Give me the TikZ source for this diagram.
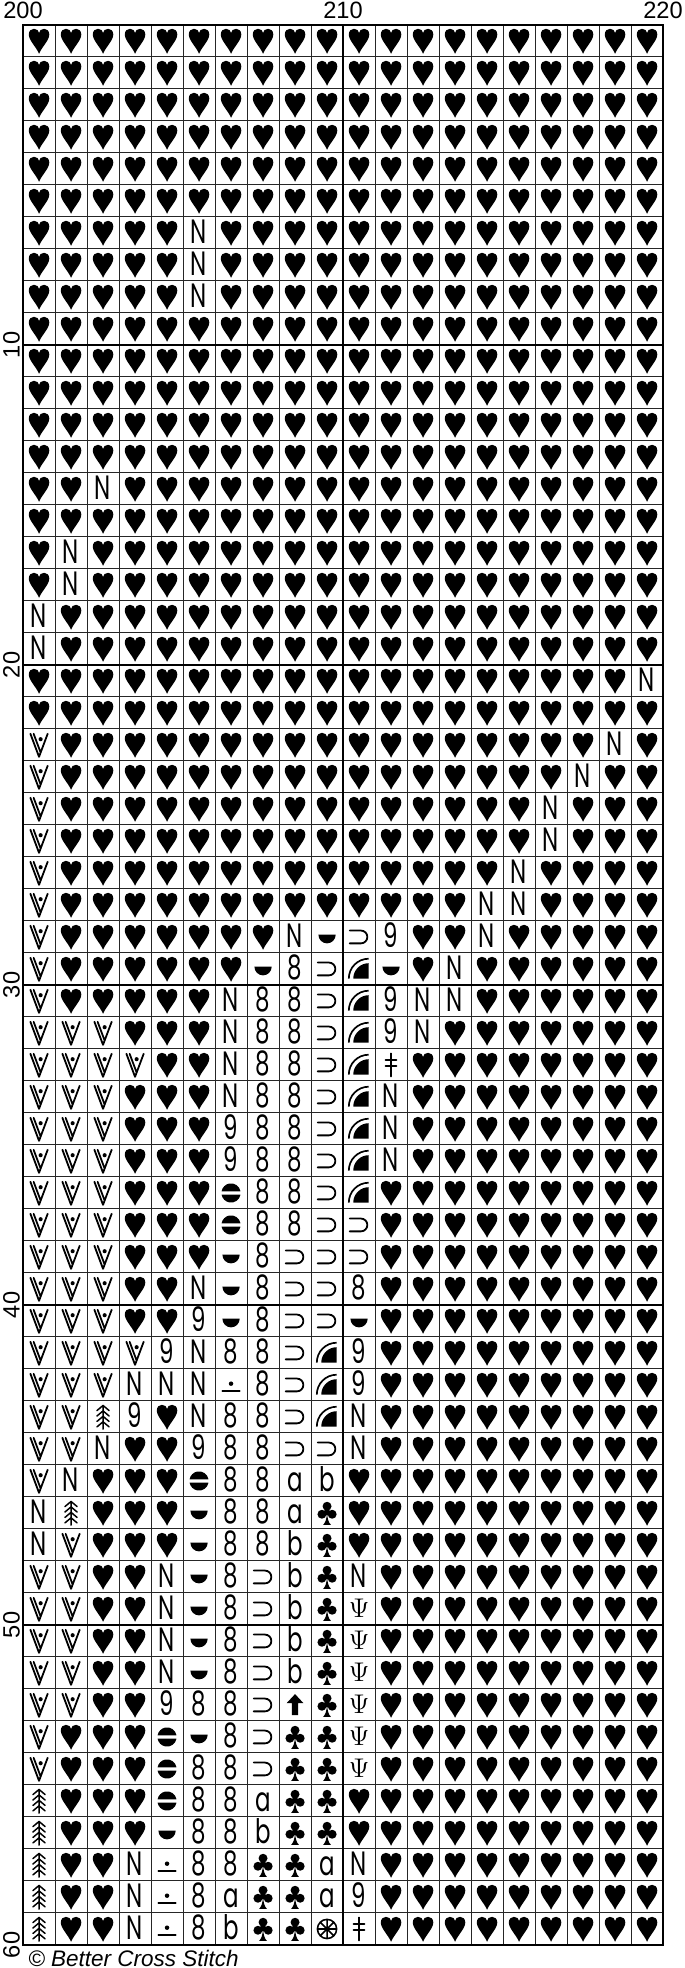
\documentclass[tikz,border=0pt]{standalone}
\usepackage{fontspec}
\setmainfont{Liberation Sans}
\newfontfamily\glyphfont{Poppins}
\usetikzlibrary{calc}

% squeeze a chart glyph sideways
\newcommand\slimglyph[1]{\scalebox{0.68}[1]{#1}}

% one chart row: \chartrow{row}{symbols}
\newcommand\chartrow[2]{\def\rowno{#1}\def\colno{0}\expandafter\chartnext#2\relax}
\def\chartnext#1{%
  \ifx\relax#1\else
    \pgfmathtruncatemacro\colno{\colno+1}%
    \pic (s\rowno-\colno) at (\colno-0.5,0.5-\rowno) {sym#1};%
    \expandafter\chartnext
  \fi}

\tikzset{
  glyph/.style={inner sep=0pt, anchor=base, font=\glyphfont\fontsize{15}{15}\selectfont},
  stroke/.style={line width=0.8pt, line cap=round, line join=round},
  % heart
  pics/symH/.style={code={
    \fill (0,-0.4) .. controls (-0.08,-0.2) and (-0.32,0.02) .. (-0.32,0.2)
      .. controls (-0.32,0.32) and (-0.24,0.38) .. (-0.16,0.38)
      .. controls (-0.07,0.38) and (0,0.32) .. (0,0.25)
      .. controls (0,0.32) and (0.07,0.38) .. (0.16,0.38)
      .. controls (0.24,0.38) and (0.32,0.32) .. (0.32,0.2)
      .. controls (0.32,0.02) and (0.08,-0.2) .. (0,-0.4) -- cycle;}},
  % club
  pics/symC/.style={code={
    \fill (0,0.21) circle (0.14) (-0.16,-0.04) circle (0.14) (0.16,-0.04) circle (0.14) (0,0.02) circle (0.1);
    \fill (0,-0.02) .. controls (0.02,-0.2) and (0.05,-0.3) .. (0.12,-0.37) -- (-0.12,-0.37)
      .. controls (-0.05,-0.3) and (-0.02,-0.2) .. (0,-0.02);}},
  % letters and figures
  pics/symN/.style={code={\node[glyph] (g) at (0,-0.33) {\slimglyph{N}};}},
  pics/sym8/.style={code={\node[glyph] (g) at (0,-0.33) {\slimglyph{8}};}},
  pics/sym9/.style={code={\node[glyph] (g) at (0,-0.33) {\slimglyph{9}};}},
  pics/syma/.style={code={\node[glyph] (g) at (0,-0.33) {\slimglyph{a}};}},
  pics/symb/.style={code={\node[glyph] (g) at (0,-0.33) {\slimglyph{b}};}},
  pics/symY/.style={code={\node[inner sep=0pt, font=\fontsize{13}{13}\selectfont] (g) at (0,0.03) {$\Psi$};}},
  % drawn marks
  pics/symS/.style={code={\draw[stroke] (-0.29,0.2) -- (0.06,0.2) arc (90:-90:0.2) -- (-0.29,-0.2);}},
  pics/symD/.style={code={\fill (-0.27,0.07) -- (0.27,0.07) arc (0:-180:0.27) -- cycle;}},
  pics/symE/.style={code={
    \fill (10:0.3) arc (10:170:0.3) -- cycle;
    \fill (-10:0.3) arc (-10:-170:0.3) -- cycle;}},
  pics/symQ/.style={code={
    \draw[line width=0.75pt] (-0.32,-0.3) arc (180:90:0.62);
    \fill (0.3,-0.3) -- (-0.18,-0.3) arc (180:90:0.48) -- cycle;}},
  pics/symT/.style={code={\draw[stroke] (0,-0.36) -- (0,0.36) (-0.17,0.15) -- (0.17,0.15) (-0.17,-0.02) -- (0.17,-0.02);}},
  pics/symP/.style={code={\fill (0,0.04) circle (0.07); \draw[stroke] (-0.27,-0.19) -- (0.27,-0.19);}},
  pics/symU/.style={code={\fill (0,0.34) -- (0.26,0.06) -- (0.1,0.06) -- (0.1,-0.32) -- (-0.1,-0.32) -- (-0.1,0.06) -- (-0.26,0.06) -- cycle;}},
  pics/symF/.style={code={\draw[stroke, line width=0.65pt] (0,-0.38) -- (0,0.36)
    (-0.19,0.2) -- (0,0.36) -- (0.19,0.2) (-0.19,0.03) -- (0,0.19) -- (0.19,0.03)
    (-0.19,-0.14) -- (0,0.02) -- (0.19,-0.14) (-0.19,-0.31) -- (0,-0.15) -- (0.19,-0.31);}},
  pics/symW/.style={code={\draw[stroke, line width=0.7pt] (0,0) circle (0.3)
    (0:0.3) -- (180:0.3) (45:0.3) -- (225:0.3) (90:0.3) -- (270:0.3) (135:0.3) -- (315:0.3);}},
  pics/symV/.style={code={\draw[stroke] (-0.27,0.35) -- (0,-0.37) -- (0.27,0.35)
    (-0.17,0.35) -- (0.05,-0.237); \fill (0.05,0.18) circle (0.065);}}
}

\begin{document}
\begin{tikzpicture}[x=0.5cm, y=0.5cm,
    cellrule/.style={line width=0.45pt, black!85},
    blockrule/.style={line width=1.2pt},
    collabel/.style={anchor=base, inner sep=0pt, font=\fontsize{10.5}{12}\selectfont},
    rowlabel/.style={rotate=90, inner sep=0pt, font=\fontsize{10.5}{12}\selectfont},
    credit/.style={anchor=north west, inner sep=0pt, font=\itshape\fontsize{10}{12}\selectfont}]
  % page
  \fill[white] (-0.72,0.78) rectangle (20.66,-60.72);
  \useasboundingbox (-0.72,0.78) rectangle (20.66,-60.72);

  % cell rules
  \foreach \c in {1,...,19} \draw[cellrule] (\c,0) -- (\c,-60);
  \foreach \r in {1,...,59} \draw[cellrule] (0,-\r) -- (20,-\r);

  % symbols, row by row
  \foreach \r/\s in {
      1/HHHHHHHHHHHHHHHHHHHH, 2/HHHHHHHHHHHHHHHHHHHH, 3/HHHHHHHHHHHHHHHHHHHH,
      4/HHHHHHHHHHHHHHHHHHHH, 5/HHHHHHHHHHHHHHHHHHHH, 6/HHHHHHHHHHHHHHHHHHHH,
      7/HHHHHNHHHHHHHHHHHHHH, 8/HHHHHNHHHHHHHHHHHHHH, 9/HHHHHNHHHHHHHHHHHHHH,
      10/HHHHHHHHHHHHHHHHHHHH, 11/HHHHHHHHHHHHHHHHHHHH, 12/HHHHHHHHHHHHHHHHHHHH,
      13/HHHHHHHHHHHHHHHHHHHH, 14/HHHHHHHHHHHHHHHHHHHH, 15/HHNHHHHHHHHHHHHHHHHH,
      16/HHHHHHHHHHHHHHHHHHHH, 17/HNHHHHHHHHHHHHHHHHHH, 18/HNHHHHHHHHHHHHHHHHHH,
      19/NHHHHHHHHHHHHHHHHHHH, 20/NHHHHHHHHHHHHHHHHHHH, 21/HHHHHHHHHHHHHHHHHHHN,
      22/HHHHHHHHHHHHHHHHHHHH, 23/VHHHHHHHHHHHHHHHHHNH, 24/VHHHHHHHHHHHHHHHHNHH,
      25/VHHHHHHHHHHHHHHHNHHH, 26/VHHHHHHHHHHHHHHHNHHH, 27/VHHHHHHHHHHHHHHNHHHH,
      28/VHHHHHHHHHHHHHNNHHHH, 29/VHHHHHHHNDS9HHNHHHHH, 30/VHHHHHHD8SQDHNHHHHHH,
      31/VHHHHHN88SQ9NNHHHHHH, 32/VVVHHHN88SQ9NHHHHHHH, 33/VVVVHHN88SQTHHHHHHHH,
      34/VVVHHHN88SQNHHHHHHHH, 35/VVVHHH988SQNHHHHHHHH, 36/VVVHHH988SQNHHHHHHHH,
      37/VVVHHHE88SQHHHHHHHHH, 38/VVVHHHE88SSHHHHHHHHH, 39/VVVHHHD8SSSHHHHHHHHH,
      40/VVVHHND8SS8HHHHHHHHH, 41/VVVHH9D8SSDHHHHHHHHH, 42/VVVV9N88SQ9HHHHHHHHH,
      43/VVVNNNP8SQ9HHHHHHHHH, 44/VVF9HN88SQNHHHHHHHHH, 45/VVNHH988SSNHHHHHHHHH,
      46/VNHHHE88abHHHHHHHHHH, 47/NFHHHD88aCHHHHHHHHHH, 48/NVHHHD88bCHHHHHHHHHH,
      49/VVHHND8SbCNHHHHHHHHH, 50/VVHHND8SbCYHHHHHHHHH, 51/VVHHND8SbCYHHHHHHHHH,
      52/VVHHND8SbCYHHHHHHHHH, 53/VVHH988SUCYHHHHHHHHH, 54/VHHHED8SCCYHHHHHHHHH,
      55/VHHHE88SCCYHHHHHHHHH, 56/FHHHE88aCCHHHHHHHHHH, 57/FHHHD88bCCHHHHHHHHHH,
      58/FHHNP88CCaNHHHHHHHHH, 59/FHHNP8aCCa9HHHHHHHHH, 60/FHHNP8bCCWTHHHHHHHHH}
    {\chartrow{\r}{\s}}

  % block rules every ten stitches
  \foreach \r in {10,20,...,50} \draw[blockrule] (0,-\r) -- (20,-\r);
  \draw[blockrule] (10,0) -- (10,-60);
  \draw[blockrule] (0,0) rectangle (20,-60);

  % column and row numbers
  \node[collabel] (col200) at (0,0.19) {200};
  \node[collabel] (col210) at (10,0.19) {210};
  \node[collabel] (col220) at (20,0.19) {220};
  \foreach \r in {10,20,...,60} \node[rowlabel] (row\r) at (-0.36,-\r) {\r};

  \node[credit] (credit) at (0.15,-60.16) {© Better Cross Stitch};
\end{tikzpicture}
\end{document}
